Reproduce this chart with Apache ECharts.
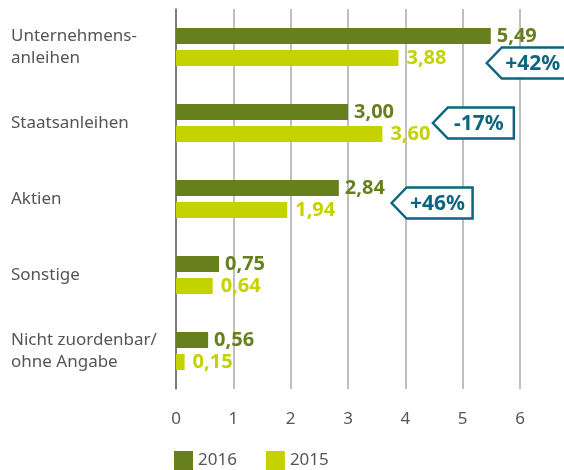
<!DOCTYPE html>
<html>
<head>
<meta charset="utf-8">
<script src="https://cdn.jsdelivr.net/npm/echarts@6/dist/echarts.min.js"></script>
<style>
  html, body { margin: 0; padding: 0; background: #fff; }
  #chart { width: 564px; height: 470px; }
</style>
</head>
<body>
<div id="chart"></div>
<script>
// Daten
var categories = ['Unternehmens-\nanleihen', 'Staatsanleihen', 'Aktien', 'Sonstige', 'Nicht zuordenbar/\nohne Angabe'];
var values2016 = [5.49, 3.00, 2.84, 0.75, 0.56];
var values2015 = [3.88, 3.60, 1.94, 0.64, 0.15];
var changes = ['+42%', '-17%', '+46%'];
var xTicks = [0, 1, 2, 3, 4, 5, 6];

var dark = '#677f1d';
var lime = '#c4d200';
var teal = '#0d6580';
var grey = '#555555';
var font = 'Noto Sans';

function fmt(v) {
  return v.toFixed(2).replace('.', ',');
}

// Pfeil-Kästchen: Spitze (Wert auf der x-Achse), Kategorie, Verschiebung in px
var calloutData = [
  [5.42, 0, changes[0], 16],
  [4.48, 1, changes[1], 0],
  [3.76, 2, changes[2], 4]
];

var chart = echarts.init(document.getElementById('chart'));
chart.setOption({
  animation: false,
  textStyle: { fontFamily: font },
  grid: { left: 176, right: 44, top: 9, height: 380 },
  legend: {
    data: ['2016', '2015'],
    left: 174,
    top: 451,
    padding: 0,
    icon: 'rect',
    itemWidth: 19,
    itemHeight: 19,
    itemGap: 29,
    textStyle: { color: grey, fontSize: 17, fontFamily: font }
  },
  xAxis: {
    type: 'value',
    min: xTicks[0],
    max: xTicks[xTicks.length - 1],
    interval: 1,
    axisLine: { show: false },
    axisTick: { show: false },
    axisLabel: { color: grey, fontSize: 17, margin: 22 },
    splitLine: { lineStyle: { color: '#aaaaaa', width: 1.5 } }
  },
  yAxis: {
    type: 'category',
    data: categories,
    inverse: true,
    axisLine: { lineStyle: { color: '#666666', width: 1.5 } },
    axisTick: { show: false },
    axisLabel: {
      color: grey,
      fontSize: 17,
      align: 'left',
      margin: 165,
      lineHeight: 22
    }
  },
  series: [
    {
      name: '2016',
      type: 'bar',
      data: values2016,
      barWidth: 16,
      barGap: '38%',
      itemStyle: { color: dark },
      label: {
        show: true,
        position: 'right',
        distance: 6,
        color: dark,
        fontWeight: 'bold',
        fontSize: 20,
        formatter: function (p) { return fmt(p.value); }
      }
    },
    {
      name: '2015',
      type: 'bar',
      data: values2015,
      barWidth: 16,
      itemStyle: { color: lime },
      label: {
        show: true,
        position: 'right',
        distance: 8,
        color: lime,
        fontWeight: 'bold',
        fontSize: 20,
        formatter: function (p) { return fmt(p.value); }
      }
    },
    {
      name: 'Veränderung',
      type: 'custom',
      data: calloutData,
      encode: { x: 0, y: 1 },
      z: 5,
      silent: true,
      renderItem: function (params, api) {
        var p = api.coord([api.value(0), api.value(1)]);
        var x = p[0];
        var y = p[1] + calloutData[params.dataIndex][3];
        var h = 15.5, a = 15, w = 66;
        return {
          type: 'group',
          children: [
            {
              type: 'polygon',
              shape: {
                points: [[x, y], [x + a, y - h], [x + a + w, y - h], [x + a + w, y + h], [x + a, y + h]]
              },
              style: { fill: '#ffffff', stroke: teal, lineWidth: 2.5 }
            },
            {
              type: 'text',
              x: x + a + w / 2 - 2,
              y: y + 1,
              style: {
                text: calloutData[params.dataIndex][2],
                fill: teal,
                font: 'bold 21px "' + font + '"',
                align: 'center',
                verticalAlign: 'middle'
              }
            }
          ]
        };
      }
    }
  ]
});
</script>
</body>
</html>
